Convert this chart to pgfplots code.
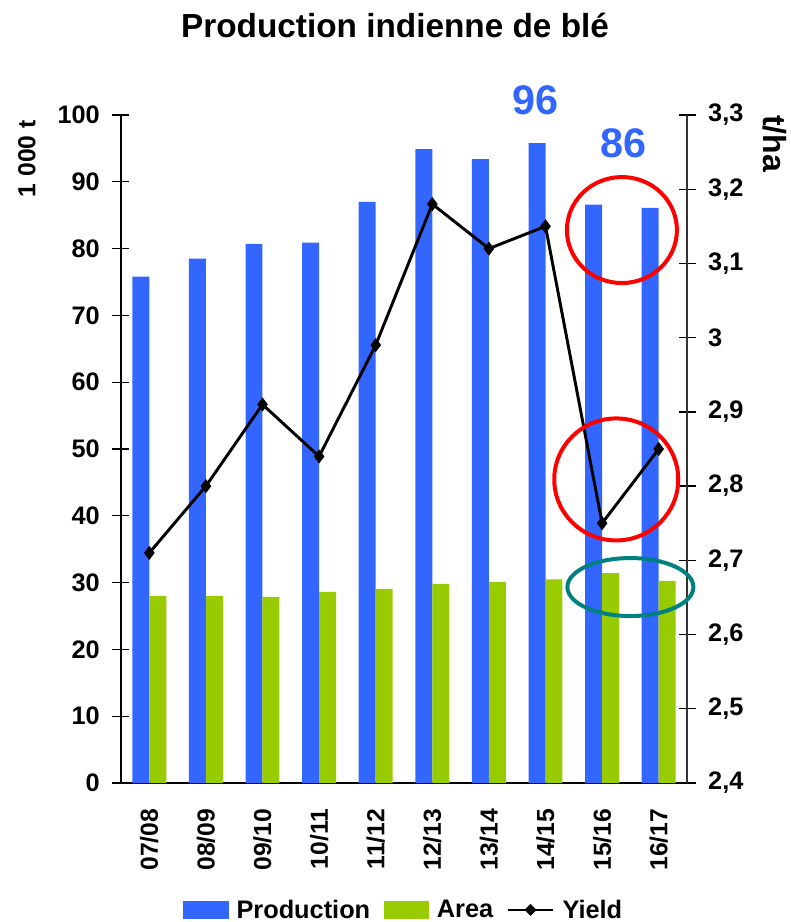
\documentclass[border=0pt]{standalone}
\usepackage{pgfplots}
\pgfplotsset{compat=1.18}
\usepackage{fontspec}
\setmainfont{Liberation Sans}
\definecolor{prodblue}{HTML}{3366FF}
\definecolor{areagreen}{HTML}{99CC00}
\definecolor{circteal}{HTML}{008080}

\begin{document}
\begin{tikzpicture}
\pgfplotsset{
  common/.style={
    scale only axis, width=424.5pt, height=501pt,
    xmin=-0.5, xmax=9.5,
    at={(0,0)}, anchor=south west,
    /pgf/number format/assume math mode=true,
    tick label style={font=\bfseries\fontsize{19}{19}\selectfont},
    tick align=center, major tick length=12.75pt,
    tick style={black, line width=1pt},
    axis line style={line width=1pt},
    clip=false,
  }
}
\begin{axis}[common,
  ybar=0pt, bar width=0.3,
  ymin=0, ymax=100, ytick={0,10,20,30,40,50,60,70,80,90,100},
  axis x line*=bottom, axis y line*=left,
  yticklabel style={xshift=-6pt},
  xtick={0,1,2,3,4,5,6,7,8,9},
  xticklabels={07/08,08/09,09/10,10/11,11/12,12/13,13/14,14/15,15/16,16/17},
  x tick label style={rotate=90, anchor=east, font=\bfseries\fontsize{18.5}{18.5}\selectfont},
  x tick style={draw=none},
  xticklabel shift=3pt,
  legend style={at={(0.5,-0.19)}, anchor=center, draw=none, fill=none,
    legend columns=3, font=\bfseries\fontsize{19}{19}\selectfont,
    /tikz/every odd column/.append style={column sep=4pt},
    /tikz/every even column/.append style={column sep=8pt},
    inner sep=0pt},
]
\addplot[fill=prodblue, draw=none,
  legend image code/.code={\fill[prodblue] (0pt,-6.5pt) rectangle (34pt,6.5pt);}]
  coordinates {(0,75.8) (1,78.5) (2,80.7) (3,80.9) (4,87.0) (5,94.9) (6,93.4) (7,95.8) (8,86.6) (9,86.1)};
\addlegendentry{Production}
\addplot[fill=areagreen, draw=none,
  legend image code/.code={\fill[areagreen] (0pt,-6.5pt) rectangle (34pt,6.5pt);}]
  coordinates {(0,28.0) (1,28.0) (2,27.85) (3,28.6) (4,29.05) (5,29.8) (6,30.1) (7,30.5) (8,31.4) (9,30.25)};
\addlegendentry{Area}
\addlegendimage{black,
  legend image code/.code={\draw[black, line width=2pt] (0pt,0pt) -- (34pt,0pt);
    \fill[black] (17pt,4.2pt) -- (21.2pt,0pt) -- (17pt,-4.2pt) -- (12.8pt,0pt) -- cycle;}}
\addlegendentry{Yield}
\node[inner sep=0pt, anchor=east, rotate=90, font=\bfseries\fontsize{18.5}{18.5}\selectfont]
  at ([xshift=-70.5pt, yshift=-3.75pt]rel axis cs:0,1) {1 000 t};
\node[inner sep=0pt, anchor=base, font=\bfseries\fontsize{25}{25}\selectfont]
  at ([xshift=205.5pt, yshift=57.75pt]rel axis cs:0,1) {Production indienne de blé};
\end{axis}

\begin{axis}[common,
  ymin=2.4, ymax=3.3, ytick={2.4,2.5,2.6,2.7,2.8,2.9,3.0,3.1,3.2,3.3},
  axis y line*=right, axis x line=none,
  y axis line style={draw=black!80},
  yticklabel style={xshift=6pt, /pgf/number format/.cd, fixed, precision=1, use comma},
]
\addplot[black, line width=2.2pt, mark=diamond*, mark size=3.5pt]
  coordinates {(0,2.71) (1,2.80) (2,2.91) (3,2.84) (4,2.99) (5,3.18) (6,3.12) (7,3.15) (8,2.75) (9,2.85)};
\node[inner sep=0pt, anchor=west, rotate=-90, font=\bfseries\fontsize{24}{24}\selectfont]
  at ([xshift=66pt, yshift=0pt]rel axis cs:1,1) {t/ha};
\node[text=prodblue, font=\bfseries\fontsize{31}{31}\selectfont] at (axis cs:6.82,3.320) {96};
\node[text=prodblue, font=\bfseries\fontsize{31}{31}\selectfont] at (axis cs:8.37,3.262) {86};
\draw[red, line width=3pt] (axis cs:8.35,3.145) ellipse [x radius=41.25pt, y radius=39.75pt];
\draw[red, line width=3pt] (axis cs:8.25,2.809) ellipse [x radius=46.5pt, y radius=45.75pt];
\draw[circteal, line width=3pt] (axis cs:8.5,2.664) ellipse [x radius=47.25pt, y radius=21.75pt];
\end{axis}
\pgfresetboundingbox
\path[use as bounding box] (-90.75pt,-104.25pt) rectangle (502.5pt,587.25pt);
\end{tikzpicture}
\end{document}
